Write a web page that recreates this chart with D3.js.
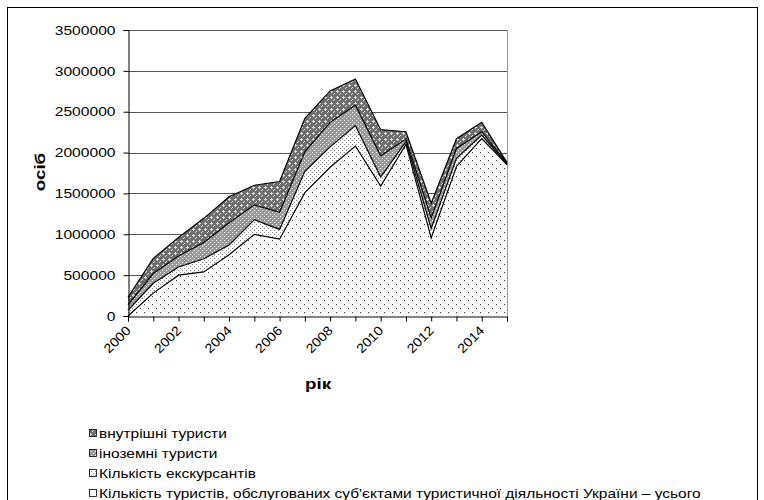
<!DOCTYPE html>
<html>
<head>
<meta charset="utf-8">
<script src="https://cdn.jsdelivr.net/npm/d3@7"></script>
<style>
  body { margin: 0; background: #fff; }
  svg text { font-family: "Liberation Sans", Arial, sans-serif; }
</style>
</head>
<body>
<svg id="chart" width="764" height="500"></svg>
<script>
// years on the category axis
var years = [2000, 2001, 2002, 2003, 2004, 2005, 2006, 2007, 2008, 2009, 2010, 2011, 2012, 2013, 2014, 2015];
var yTicks = [0, 500000, 1000000, 1500000, 2000000, 2500000, 3000000, 3500000];

// stacked series, bottom to top
var totalServed = [0, 280000, 500000, 540000, 750000, 1000000, 940000, 1510000, 1820000, 2080000, 1590000, 2100000, 955000, 1830000, 2170000, 1850000];
var excursants = [70000, 120000, 100000, 160000, 120000, 180000, 120000, 260000, 250000, 250000, 110000, 35000, 115000, 100000, 45000, 10000];
var foreign = [65000, 120000, 135000, 200000, 270000, 180000, 210000, 240000, 300000, 250000, 260000, 30000, 130000, 120000, 40000, 10000];
var domestic = [95000, 185000, 225000, 295000, 320000, 240000, 375000, 410000, 385000, 320000, 320000, 90000, 180000, 120000, 115000, 10000];

var seriesKeys = ["total", "exc", "foreign", "domestic"];
var legendLabels = [
  "внутрішні туристи",
  "іноземні туристи",
  "Кількість екскурсантів",
  "Кількість туристів, обслугованих суб'єктами туристичної діяльності України – усього"
];

var rows = years.map(function (y, i) {
  return { year: y, total: totalServed[i], exc: excursants[i], foreign: foreign[i], domestic: domestic[i] };
});

var svg = d3.select("#chart");

// the original text is drawn a bit wide, stretch ours to match
function stretch(sel, f) {
  sel.each(function () {
    var w = this.getComputedTextLength();
    d3.select(this).attr("textLength", w * f).attr("lengthAdjust", "spacingAndGlyphs");
  });
}

// patterns standing in for the Excel fills
var defs = svg.append("defs");
function pattern(id, size, bg, dots, dotColor) {
  var p = defs.append("pattern").attr("id", id)
    .attr("patternUnits", "userSpaceOnUse")
    .attr("width", size).attr("height", size);
  p.append("rect").attr("width", size).attr("height", size).attr("fill", bg);
  dots.forEach(function (d) {
    p.append("rect").attr("x", d[0]).attr("y", d[1])
      .attr("width", d[2] || 1).attr("height", d[3] || 1).attr("fill", dotColor);
  });
}
pattern("p-total", 8, "#fff", [[0, 0], [4, 4]], "#333");
pattern("p-exc", 4, "#fff", [[0, 0], [2, 2]], "#888");
pattern("p-foreign", 4, "#999", [[0, 0], [2, 2]], "#fff");
pattern("p-domestic", 6, "#6e6e6e", [[1, 0, 1, 3], [0, 1, 3, 1], [4, 3], [3, 4, 1, 1]], "#ddd");
var fills = { total: "url(#p-total)", exc: "url(#p-exc)", foreign: "url(#p-foreign)", domestic: "url(#p-domestic)" };

// outer chart border (bottom edge falls below the picture)
svg.append("rect").attr("x", 7.5).attr("y", 7.5).attr("width", 750).attr("height", 500)
  .attr("fill", "none").attr("stroke", "#000");

var x = d3.scalePoint().domain(years).range([128, 507]);
var y = d3.scaleLinear().domain([0, 3500000]).range([316, 30]);

// gridlines
svg.append("g").selectAll("line").data(yTicks.slice(1)).enter().append("line")
  .attr("x1", 128).attr("x2", 507)
  .attr("y1", function (d) { return Math.round(y(d)) + 0.5; })
  .attr("y2", function (d) { return Math.round(y(d)) + 0.5; })
  .attr("stroke", "#555");
// plot area right border
svg.append("line").attr("x1", 507.5).attr("x2", 507.5).attr("y1", 30).attr("y2", 316)
  .attr("stroke", "#999");

var stack = d3.stack().keys(seriesKeys);
var layers = stack(rows);

var area = d3.area()
  .x(function (d) { return x(d.data.year); })
  .y0(function (d) { return y(d[0]); })
  .y1(function (d) { return y(d[1]); });
var line = d3.line()
  .x(function (d) { return x(d.data.year); })
  .y(function (d) { return y(d[1]); });

var g = svg.append("g");
g.selectAll("path.area").data(layers).enter().append("path")
  .attr("class", "area")
  .attr("d", area)
  .attr("fill", function (d) { return fills[d.key]; })
  .attr("stroke", "none");
g.selectAll("path.edge").data(layers).enter().append("path")
  .attr("class", "edge")
  .attr("d", line)
  .attr("fill", "none")
  .attr("stroke", "#000")
  .attr("stroke-width", 1.2);

// y axis
var yAxis = d3.axisLeft(y).tickValues(yTicks).tickFormat(d3.format("d")).tickSize(5).tickPadding(8);
var gy = svg.append("g").attr("transform", "translate(128.5,0)").call(yAxis);
gy.select(".domain").attr("stroke", "#000");
gy.selectAll("text").attr("font-size", 13).attr("fill", "#000");
stretch(gy.selectAll("text"), 1.2);

// x axis
var xAxis = d3.axisBottom(x).tickSize(5)
  .tickFormat(function (d) { return d % 2 === 0 ? d : ""; });
var gx = svg.append("g").attr("transform", "translate(0,316.5)").call(xAxis);
gx.select(".domain").attr("stroke", "#000");
gx.selectAll("text")
  .attr("font-size", 13).attr("fill", "#000")
  .attr("text-anchor", "end")
  .attr("y", 0).attr("dy", 0)
  .attr("transform", "translate(3,15) rotate(-45)");
stretch(gx.selectAll("text"), 1.1);

// axis titles
var yTitle = svg.append("text").attr("transform", "translate(45,172) rotate(-90)")
  .attr("text-anchor", "middle").attr("font-size", 15).attr("font-weight", "bold").text("осіб");
var xTitle = svg.append("text").attr("x", 318).attr("y", 389)
  .attr("text-anchor", "middle").attr("font-size", 15).attr("font-weight", "bold").text("рік");
stretch(yTitle, 1.25);
stretch(xTitle, 1.25);

// legend
var legendFills = [fills.domestic, fills.foreign, fills.exc, fills.total];
var legend = svg.append("g").selectAll("g").data(legendLabels).enter().append("g")
  .attr("transform", function (d, i) { return "translate(89," + (433 + i * 20) + ")"; });
legend.append("rect").attr("x", 0.5).attr("y", -3.5).attr("width", 7).attr("height", 7)
  .attr("fill", function (d, i) { return legendFills[i]; })
  .attr("stroke", "#000").attr("stroke-width", 0.8);
var legendText = legend.append("text").attr("x", 10).attr("y", 0).attr("dy", "0.35em")
  .attr("font-size", 13).text(function (d) { return d; });
stretch(legendText, 1.19);
</script>
</body>
</html>
